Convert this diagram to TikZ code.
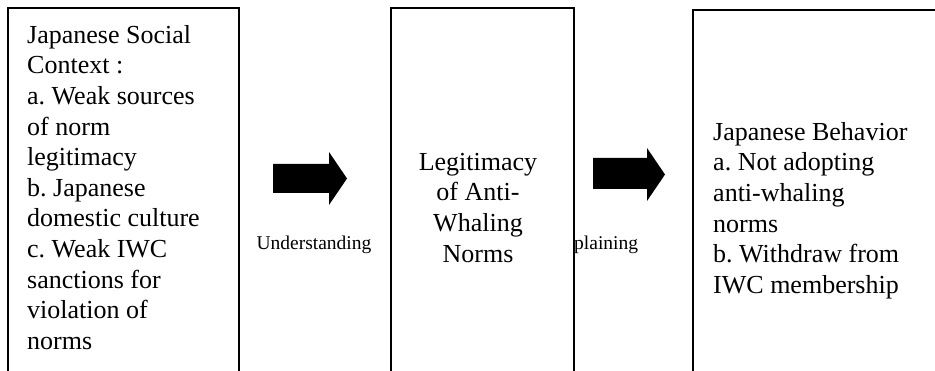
\documentclass[tikz,border=0pt]{standalone}
\usepackage{fontspec}
\setmainfont{Liberation Serif}
\frenchspacing
\begin{document}
\begin{tikzpicture}[x=1pt,y=-1pt,
  box/.style={draw, line width=1.6pt, fill=white, inner sep=0pt, anchor=north west, minimum height=420pt},
  main/.style={font=\rmfamily\fontsize{26}{30.6}\selectfont, inner sep=0pt},
  lab/.style={font=\rmfamily\fontsize{19.5}{23}\selectfont, inner sep=0pt},
  blockarrow/.style={fill=black}
]
\useasboundingbox (0,0) rectangle (935,371);
\clip (0,0) rectangle (935,371);
% labels (drawn first, partly hidden by boxes)
\node[lab, anchor=base] (lab1) at (314,249.5) {Understanding};
\node[lab, anchor=base west] (lab2) at (574,249.5) {plaining};
% boxes (open at the bottom: they run past the page)
\node[box, minimum width=231pt] (left) at (7,7) {};
\node[box, minimum width=183pt] (mid) at (390,7) {};
\node[box, minimum width=320pt] (right) at (692,9) {};
% block arrows
\fill[blockarrow] (273,164) -- (329,164) -- (329,152) -- (347,178.5) -- (329,205) -- (329,193) -- (273,193) -- cycle;
\fill[blockarrow] (593,158) -- (647,158) -- (647,148) -- (665,174.5) -- (647,201) -- (647,189) -- (593,189) -- cycle;
% texts
\node[main, anchor=north west, align=left] (ltext) at (27,21.6) {\strut Japanese Social\\\strut Context :\\\strut a. Weak sources\\\strut of norm\\\strut legitimacy\\\strut b. Japanese\\\strut domestic culture\\\strut c. Weak IWC\\\strut sanctions for\\\strut violation of\\\strut norms};
\node[main, anchor=north, align=center] (mtext) at (478,148.6) {\strut Legitimacy\\\strut of Anti-\\\strut Whaling\\\strut Norms};
\node[main, anchor=north west, align=left] (rtext) at (713,118.6) {\strut Japanese Behavior\\\strut a. Not adopting\\\strut anti-whaling\\\strut norms\\\strut b. Withdraw from\\\strut IWC membership};
\end{tikzpicture}
\end{document}
